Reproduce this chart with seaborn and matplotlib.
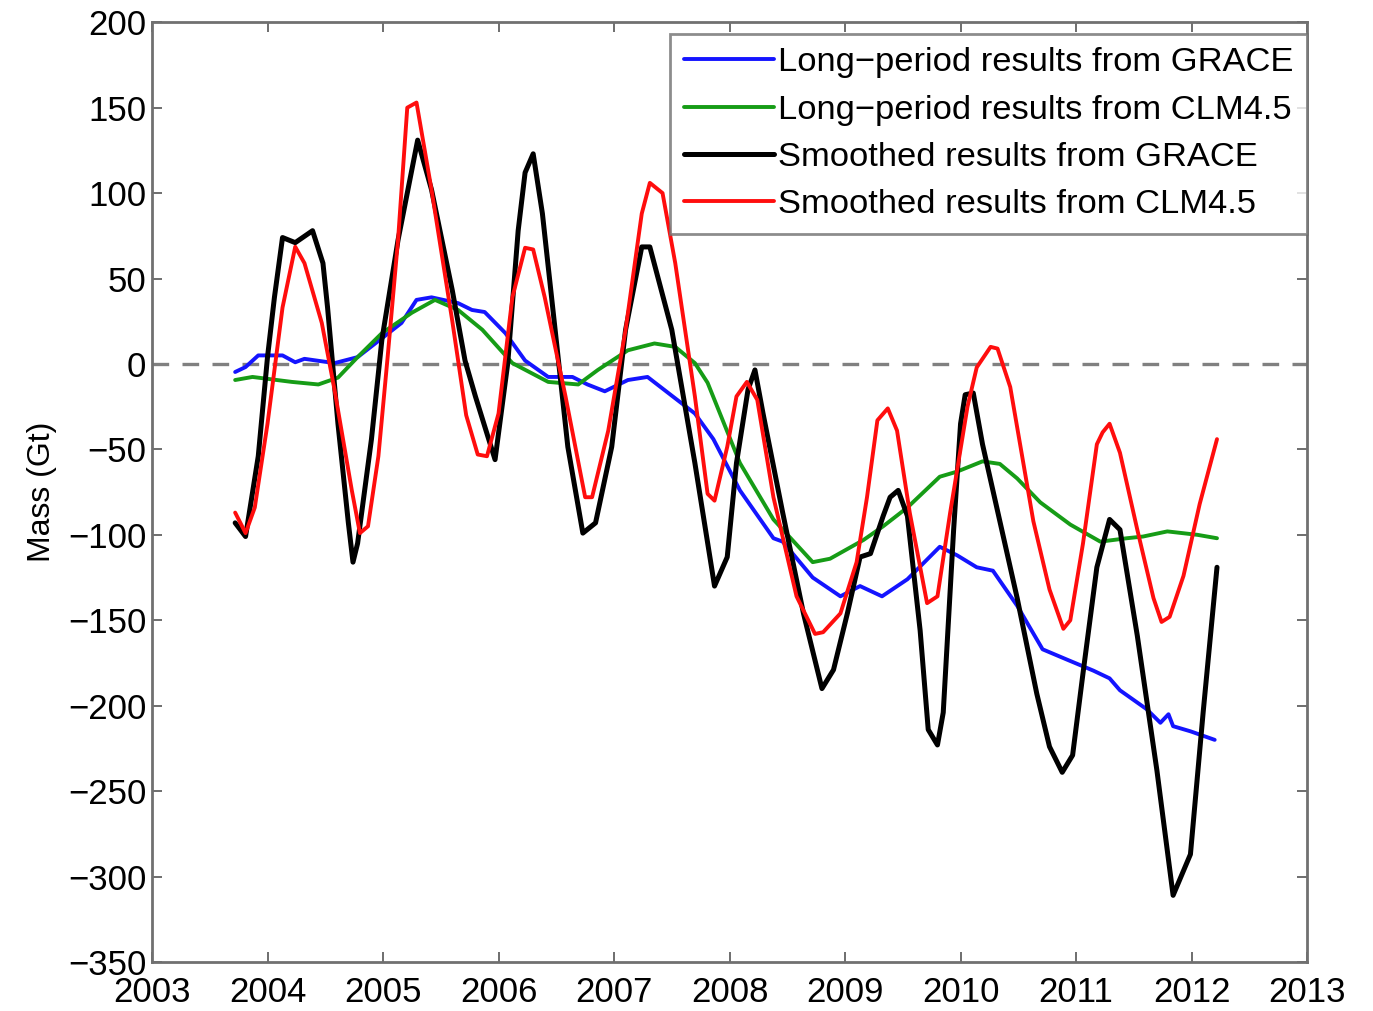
import pandas as pd
import seaborn as sns
import matplotlib.pyplot as plt

# =========================
#   Data (decimal year, Gt)
# =========================
grace_long_t = [2003.72, 2003.81, 2003.92, 2004.13, 2004.24, 2004.32, 2004.58, 2004.78,
                2004.99, 2005.16, 2005.29, 2005.42, 2005.65, 2005.77, 2005.88, 2006.06,
                2006.23, 2006.43, 2006.64, 2006.77, 2006.92, 2007.12, 2007.29, 2007.47,
                2007.70, 2007.86, 2008.09, 2008.38, 2008.46, 2008.72, 2008.96, 2009.13,
                2009.32, 2009.54, 2009.82, 2009.97, 2010.14, 2010.28, 2010.49, 2010.71,
                2010.92, 2011.15, 2011.29, 2011.38, 2011.61, 2011.73, 2011.80, 2011.84,
                2011.99, 2012.20]
grace_long_v = [-4.7, -1.8, 5, 5, 1, 3, 0.5, 4,
                15, 24, 37.5, 39, 35.6, 31.6, 30.4, 18,
                2, -7.6, -7.6, -12, -16, -9.4, -7.6, -17,
                -29, -44, -74, -102, -104, -125, -136, -130,
                -136, -126, -107, -112, -119, -121, -141.5, -167,
                -173, -179.5, -184, -191, -202, -210, -205, -212,
                -215, -220]

clm_long_t = [2003.72, 2003.87, 2004.21, 2004.44, 2004.61, 2004.78, 2004.99, 2005.25,
              2005.45, 2005.65, 2005.86, 2006.12, 2006.43, 2006.69, 2006.86, 2007.12,
              2007.35, 2007.53, 2007.70, 2007.81, 2008.09, 2008.38, 2008.72, 2008.87,
              2009.16, 2009.33, 2009.54, 2009.82, 2009.97, 2010.19, 2010.34, 2010.49,
              2010.69, 2010.95, 2011.21, 2011.44, 2011.58, 2011.79, 2012.05, 2012.22]
clm_long_v = [-9.4, -7.6, -10.5, -12, -8, 4, 18, 30,
              37.5, 31.6, 20, 0.5, -10.5, -12, -3.5, 8,
              12, 10, 0.5, -11, -58, -91, -116, -114,
              -103, -95, -84, -66, -63, -57, -58.5, -67,
              -81, -94, -104, -102, -101, -98, -100, -102]

grace_smooth_t = [2003.72, 2003.81, 2003.92, 2004.00, 2004.06, 2004.13, 2004.24, 2004.39,
                  2004.48, 2004.52, 2004.61, 2004.70, 2004.74, 2004.78, 2004.90, 2004.99,
                  2005.13, 2005.30, 2005.42, 2005.60, 2005.71, 2005.80, 2005.97, 2006.08,
                  2006.17, 2006.23, 2006.30, 2006.38, 2006.49, 2006.60, 2006.73, 2006.84,
                  2006.98, 2007.10, 2007.24, 2007.31, 2007.50, 2007.70, 2007.87, 2007.98,
                  2008.06, 2008.16, 2008.22, 2008.29, 2008.46, 2008.64, 2008.80, 2008.90,
                  2009.02, 2009.13, 2009.22, 2009.33, 2009.39, 2009.46, 2009.54, 2009.65,
                  2009.72, 2009.80, 2009.85, 2009.94, 2010.00, 2010.04, 2010.11, 2010.19,
                  2010.34, 2010.49, 2010.66, 2010.77, 2010.88, 2010.97, 2011.06, 2011.18,
                  2011.29, 2011.38, 2011.53, 2011.70, 2011.84, 2011.99, 2012.10, 2012.22]
grace_smooth_v = [-93, -101, -54, 4, 39, 74, 71, 78,
                  59, 33, -35, -93, -116, -105, -44, 14,
                  72.5, 131, 102, 43, 2, -19, -56, 0.5,
                  78, 112, 123, 88, 20, -48.5, -99, -93,
                  -48.5, 20, 68.5, 68.5, 20, -58, -130, -113,
                  -58, -15, -3.5, -29, -87, -146, -190, -179,
                  -146, -113, -111, -89, -78, -74, -89, -156,
                  -214, -223, -204, -97, -35, -18, -17, -47,
                  -92, -137, -193, -224, -239, -229, -181, -119,
                  -91, -97, -159, -238, -311, -287, -204, -119]

clm_smooth_t = [2003.72, 2003.81, 2003.89, 2004.00, 2004.13, 2004.24, 2004.32, 2004.47,
                2004.58, 2004.73, 2004.80, 2004.87, 2004.96, 2005.04, 2005.13, 2005.21,
                2005.29, 2005.42, 2005.60, 2005.72, 2005.82, 2005.90, 2006.00, 2006.12,
                2006.23, 2006.30, 2006.40, 2006.58, 2006.75, 2006.81, 2006.95, 2007.10,
                2007.24, 2007.31, 2007.42, 2007.53, 2007.70, 2007.81, 2007.87, 2007.98,
                2008.06, 2008.15, 2008.24, 2008.38, 2008.58, 2008.74, 2008.81, 2008.96,
                2009.10, 2009.19, 2009.28, 2009.37, 2009.45, 2009.56, 2009.71, 2009.80,
                2009.91, 2010.06, 2010.14, 2010.26, 2010.32, 2010.43, 2010.63, 2010.77,
                2010.89, 2010.95, 2011.06, 2011.18, 2011.23, 2011.29, 2011.38, 2011.53,
                2011.67, 2011.74, 2011.81, 2011.93, 2012.07, 2012.22]
clm_smooth_v = [-87, -99, -84, -35, 33, 68.6, 59, 24,
                -15, -74, -99, -95, -54, 4, 72.5, 150,
                153, 102, 25, -30, -53, -54, -29, 39,
                68, 67, 39, -19, -78, -78, -39, 20,
                88, 106, 100, 59, -19, -76, -80, -48.5,
                -19, -10.5, -21, -78, -136, -158, -157, -146,
                -116, -78, -33, -26, -39, -87, -140, -136,
                -87, -25, -2, 10, 9, -13.5, -92, -132,
                -155, -150, -105, -47, -40, -35, -52, -97,
                -137, -151, -148, -124, -82, -44]

series_labels = ["Long\u2212period results from GRACE",
                 "Long\u2212period results from CLM4.5",
                 "Smoothed results from GRACE",
                 "Smoothed results from CLM4.5"]
series_colors = ["#1414ff", "#169c16", "black", "#ff0d0d"]

x_ticks = list(range(2003, 2014))
y_ticks = list(range(-350, 201, 50))


def make_frame(t, v):
    return pd.DataFrame({"year": t, "mass": v})


def plot_chart(path):
    sns.set_style("ticks")
    plt.rcParams["font.family"] = ["Liberation Sans", "DejaVu Sans"]
    plt.rcParams["text.color"] = "black"

    fig = plt.figure(figsize=(13.73, 10.11), dpi=100)
    ax = fig.add_axes([0.1107, 0.0485, 0.8413, 0.9295])

    ax.axhline(0, color="#808080", lw=2.4, ls=(0, (5, 4)), zorder=1)

    series = [(grace_long_t, grace_long_v), (clm_long_t, clm_long_v),
              (grace_smooth_t, grace_smooth_v), (clm_smooth_t, clm_smooth_v)]
    widths = [2.8, 2.8, 3.6, 2.8]
    for (t, v), lab, col, lw in zip(series, series_labels, series_colors, widths):
        sns.lineplot(data=make_frame(t, v), x="year", y="mass", ax=ax,
                     color=col, lw=lw, label=lab, sort=False, estimator=None)

    ax.set_xlim(2003, 2013)
    ax.set_ylim(-350, 200)
    ax.set_xticks(x_ticks)
    ax.set_yticks(y_ticks)
    ax.tick_params(direction="in", length=7, width=1.2, top=True, right=True,
                   labelsize=25, color="#555555", labelcolor="black")
    ax.tick_params(axis="x", pad=10)
    ax.tick_params(axis="y", pad=4)
    for s in ax.spines.values():
        s.set_color("#707070")
        s.set_linewidth(2)
    ax.set_xlabel("")
    ax.set_ylabel("Mass (Gt)", fontsize=23, labelpad=8, color="black")

    leg = ax.legend(loc="upper right", bbox_to_anchor=(1.0, 0.988), borderaxespad=0,
                    fontsize=24.8, frameon=True, fancybox=False, handlelength=2.6,
                    handletextpad=0.12, labelspacing=0.47, borderpad=0.4)
    leg.get_frame().set_edgecolor("#707070")
    leg.get_frame().set_linewidth(2)
    for txt in leg.get_texts():
        txt.set_color("black")

    fig.savefig(path, dpi=100)
    plt.close(fig)


if __name__ == "__main__":
    plot_chart("out.png")
